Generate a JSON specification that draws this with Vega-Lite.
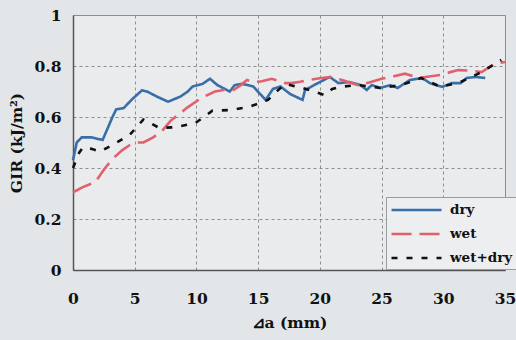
{
  "$schema": "https://vega.github.io/schema/vega-lite/v6.json",
  "autosize": {"type": "none"},
  "padding": {"left": 73, "top": 15, "right": 11, "bottom": 70},
  "width": 432,
  "height": 255,
  "background": "#e3e6e9",
  "config": {
    "font": "DejaVu Serif",
    "view": {"fill": "#e9ebed", "stroke": "#8a8c8e", "strokeWidth": 1},
    "axis": {
      "labelFont": "DejaVu Serif",
      "labelFontWeight": "bold",
      "labelFontSize": 15.5,
      "labelColor": "#111",
      "titleFont": "DejaVu Serif",
      "titleFontWeight": "bold",
      "titleFontSize": 15.5,
      "titleColor": "#111",
      "ticks": false,
      "domainColor": "#555",
      "domainWidth": 1.5,
      "gridColor": "#8c8e90",
      "gridDash": [3, 3],
      "gridWidth": 1
    }
  },
  "data": {
    "values": [
      {"series": "dry", "a": 0, "G": 0.43},
      {"series": "dry", "a": 0.3, "G": 0.50},
      {"series": "dry", "a": 0.7, "G": 0.52},
      {"series": "dry", "a": 1.5, "G": 0.52},
      {"series": "dry", "a": 2.4, "G": 0.51},
      {"series": "dry", "a": 3.2, "G": 0.60},
      {"series": "dry", "a": 3.5, "G": 0.63},
      {"series": "dry", "a": 4.1, "G": 0.635},
      {"series": "dry", "a": 4.8, "G": 0.67},
      {"series": "dry", "a": 5.6, "G": 0.705},
      {"series": "dry", "a": 6.0, "G": 0.70},
      {"series": "dry", "a": 6.8, "G": 0.68},
      {"series": "dry", "a": 7.7, "G": 0.66},
      {"series": "dry", "a": 8.7, "G": 0.68},
      {"series": "dry", "a": 9.3, "G": 0.70},
      {"series": "dry", "a": 9.7, "G": 0.72},
      {"series": "dry", "a": 10.5, "G": 0.73},
      {"series": "dry", "a": 11.1, "G": 0.75},
      {"series": "dry", "a": 11.7, "G": 0.725},
      {"series": "dry", "a": 12.7, "G": 0.70},
      {"series": "dry", "a": 13.1, "G": 0.725},
      {"series": "dry", "a": 13.7, "G": 0.73},
      {"series": "dry", "a": 14.6, "G": 0.72},
      {"series": "dry", "a": 15.6, "G": 0.667},
      {"series": "dry", "a": 16.2, "G": 0.71},
      {"series": "dry", "a": 16.8, "G": 0.72},
      {"series": "dry", "a": 17.6, "G": 0.69},
      {"series": "dry", "a": 18.6, "G": 0.667},
      {"series": "dry", "a": 18.8, "G": 0.706},
      {"series": "dry", "a": 20.0, "G": 0.737},
      {"series": "dry", "a": 20.8, "G": 0.757},
      {"series": "dry", "a": 21.5, "G": 0.733},
      {"series": "dry", "a": 22.4, "G": 0.737},
      {"series": "dry", "a": 23.3, "G": 0.725},
      {"series": "dry", "a": 23.8, "G": 0.706},
      {"series": "dry", "a": 24.2, "G": 0.725},
      {"series": "dry", "a": 24.9, "G": 0.714},
      {"series": "dry", "a": 25.7, "G": 0.725},
      {"series": "dry", "a": 26.3, "G": 0.714},
      {"series": "dry", "a": 27.3, "G": 0.745},
      {"series": "dry", "a": 28.3, "G": 0.753},
      {"series": "dry", "a": 28.9, "G": 0.733},
      {"series": "dry", "a": 29.9, "G": 0.718},
      {"series": "dry", "a": 30.7, "G": 0.733},
      {"series": "dry", "a": 31.4, "G": 0.733},
      {"series": "dry", "a": 31.9, "G": 0.753},
      {"series": "dry", "a": 32.6, "G": 0.757},
      {"series": "dry", "a": 33.4, "G": 0.753},

      {"series": "wet", "a": 0, "G": 0.305},
      {"series": "wet", "a": 0.8, "G": 0.325},
      {"series": "wet", "a": 1.8, "G": 0.345},
      {"series": "wet", "a": 2.6, "G": 0.40},
      {"series": "wet", "a": 3.3, "G": 0.44},
      {"series": "wet", "a": 4.0, "G": 0.47},
      {"series": "wet", "a": 4.6, "G": 0.49},
      {"series": "wet", "a": 5.2, "G": 0.50},
      {"series": "wet", "a": 5.7, "G": 0.50},
      {"series": "wet", "a": 6.5, "G": 0.52},
      {"series": "wet", "a": 7.2, "G": 0.545},
      {"series": "wet", "a": 7.9, "G": 0.585},
      {"series": "wet", "a": 8.7, "G": 0.615},
      {"series": "wet", "a": 9.2, "G": 0.635},
      {"series": "wet", "a": 10.4, "G": 0.675},
      {"series": "wet", "a": 11.5, "G": 0.70},
      {"series": "wet", "a": 12.2, "G": 0.706},
      {"series": "wet", "a": 13.0, "G": 0.706},
      {"series": "wet", "a": 13.6, "G": 0.725},
      {"series": "wet", "a": 14.1, "G": 0.745},
      {"series": "wet", "a": 14.7, "G": 0.737},
      {"series": "wet", "a": 15.3, "G": 0.74},
      {"series": "wet", "a": 16.1, "G": 0.75},
      {"series": "wet", "a": 17.2, "G": 0.733},
      {"series": "wet", "a": 17.7, "G": 0.733},
      {"series": "wet", "a": 18.4, "G": 0.738},
      {"series": "wet", "a": 19.0, "G": 0.745},
      {"series": "wet", "a": 20.0, "G": 0.752},
      {"series": "wet", "a": 20.8, "G": 0.757},
      {"series": "wet", "a": 21.8, "G": 0.745},
      {"series": "wet", "a": 23.1, "G": 0.725},
      {"series": "wet", "a": 24.0, "G": 0.735},
      {"series": "wet", "a": 25.0, "G": 0.75},
      {"series": "wet", "a": 26.0, "G": 0.76},
      {"series": "wet", "a": 26.9, "G": 0.77},
      {"series": "wet", "a": 28.0, "G": 0.753},
      {"series": "wet", "a": 29.0, "G": 0.76},
      {"series": "wet", "a": 29.8, "G": 0.765},
      {"series": "wet", "a": 30.5, "G": 0.775},
      {"series": "wet", "a": 31.2, "G": 0.784},
      {"series": "wet", "a": 32.2, "G": 0.782},
      {"series": "wet", "a": 33.1, "G": 0.776},
      {"series": "wet", "a": 34.2, "G": 0.81},
      {"series": "wet", "a": 35, "G": 0.816},

      {"series": "wet+dry", "a": 0, "G": 0.40},
      {"series": "wet+dry", "a": 0.5, "G": 0.46},
      {"series": "wet+dry", "a": 0.8, "G": 0.48},
      {"series": "wet+dry", "a": 1.5, "G": 0.475},
      {"series": "wet+dry", "a": 2.2, "G": 0.465},
      {"series": "wet+dry", "a": 3.2, "G": 0.49},
      {"series": "wet+dry", "a": 4.6, "G": 0.53},
      {"series": "wet+dry", "a": 5.7, "G": 0.59},
      {"series": "wet+dry", "a": 6.3, "G": 0.575},
      {"series": "wet+dry", "a": 7.0, "G": 0.557},
      {"series": "wet+dry", "a": 8.3, "G": 0.56},
      {"series": "wet+dry", "a": 9.9, "G": 0.576},
      {"series": "wet+dry", "a": 10.6, "G": 0.60},
      {"series": "wet+dry", "a": 11.3, "G": 0.625},
      {"series": "wet+dry", "a": 12.7, "G": 0.627},
      {"series": "wet+dry", "a": 14.3, "G": 0.64},
      {"series": "wet+dry", "a": 15.8, "G": 0.667},
      {"series": "wet+dry", "a": 16.5, "G": 0.70},
      {"series": "wet+dry", "a": 17.2, "G": 0.73},
      {"series": "wet+dry", "a": 18.0, "G": 0.72},
      {"series": "wet+dry", "a": 18.6, "G": 0.714},
      {"series": "wet+dry", "a": 19.5, "G": 0.70},
      {"series": "wet+dry", "a": 20.4, "G": 0.686},
      {"series": "wet+dry", "a": 21.0, "G": 0.71},
      {"series": "wet+dry", "a": 21.6, "G": 0.718},
      {"series": "wet+dry", "a": 23.1, "G": 0.725},
      {"series": "wet+dry", "a": 24.0, "G": 0.72},
      {"series": "wet+dry", "a": 24.9, "G": 0.714},
      {"series": "wet+dry", "a": 26.6, "G": 0.725},
      {"series": "wet+dry", "a": 28.2, "G": 0.753},
      {"series": "wet+dry", "a": 29.8, "G": 0.718},
      {"series": "wet+dry", "a": 31.4, "G": 0.737},
      {"series": "wet+dry", "a": 33.1, "G": 0.776},
      {"series": "wet+dry", "a": 34.7, "G": 0.824}
    ]
  },
  "mark": {"type": "line", "strokeWidth": 2.6, "interpolate": "linear"},
  "encoding": {
    "x": {
      "field": "a",
      "type": "quantitative",
      "scale": {"domain": [0, 35], "nice": false},
      "axis": {
        "values": [0, 5, 10, 15, 20, 25, 30, 35],
        "title": "⊿a (mm)",
        "labelPadding": 21,
        "titlePadding": 9,
        "labelFlush": false
      }
    },
    "y": {
      "field": "G",
      "type": "quantitative",
      "scale": {"domain": [0, 1], "nice": false},
      "axis": {
        "values": [0, 0.2, 0.4, 0.6, 0.8, 1],
        "format": "~g",
        "title": "GIR (kJ/m²)",
        "labelPadding": 12,
        "titlePadding": 10
      }
    },
    "color": {
      "field": "series",
      "type": "nominal",
      "scale": {"domain": ["dry", "wet", "wet+dry"], "range": ["#3a6ea8", "#e2606e", "#111111"]},
      "legend": {
        "title": null,
        "orient": "none",
        "legendX": 313,
        "legendY": 182,
        "direction": "vertical",
        "symbolType": "M-1,0H5.667",
        "symbolSize": 225,
        "symbolStrokeWidth": 2.6,
        "labelFont": "DejaVu Serif",
        "labelFontWeight": "bold",
        "labelFontSize": 13.5,
        "labelColor": "#111",
        "labelOffset": 42,
        "rowPadding": 8,
        "padding": 4,
        "fillColor": "#eceef0",
        "strokeColor": "#9a9c9e"
      }
    },
    "strokeDash": {
      "field": "series",
      "type": "nominal",
      "scale": {"domain": ["dry", "wet", "wet+dry"], "range": [[1, 0], [20, 8], [6, 9]]}
    }
  }
}
